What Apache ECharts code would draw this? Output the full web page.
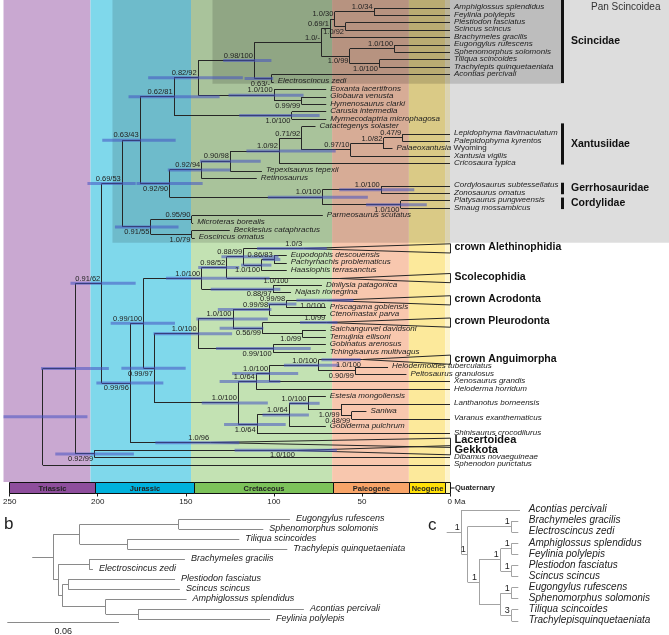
<!DOCTYPE html>
<html><head><meta charset="utf-8">
<script src="https://cdn.jsdelivr.net/npm/echarts@6/dist/echarts.min.js"></script>
<style>html,body{margin:0;padding:0;background:#fff}#c{width:669px;height:635px}</style>
</head><body><div id="c"></div>
<script>
// ---------------- Panel a data ----------------
const tipNames = [
 'Amphiglossus splendidus','Feylinia polylepis','Plestiodon fasciatus','Scincus scincus','Brachymeles gracilis',
 'Eugongylus rufescens','Sphenomorphus solomonis','Tiliqua scincoides','Trachylepis quinquetaeniata','Acontias percivali',
 'Electroscincus zedi','Eoxanta lacertifrons','Globaura venusta','Hymenosaurus clarki','Carusia intermedia',
 'Myrmecodaptria microphagosa','Catactegenys solaster','Lepidophyma flavimaculatum','Palepidophyma kyrentos','Palaeoxantusia Wyoming',
 'Xantusia vigilis','Cricosaura typica','Tepexisaurus tepexii','Retinosaurus','Cordylosaurus subtessellatus',
 'Zonosaurus ornatus','Platysaurus pungweensis','Smaug mossambicus','Parmeosaurus scutatus','Microteras borealis',
 'Becklesius cataphractus','Eoscincus ornatus','crown Alethinophidia','Eupodophis descouensis','Pachyrhachis problematicus',
 'Haasiophis terrasanctus','Scolecophidia','Dinilysia patagonica','Najash rionegrina','crown Acrodonta',
 'Priscagama gobiensis','Ctenomastax parva','crown Pleurodonta','Saichangurvel davidsoni','Temujinia ellisoni',
 'Gobinatus arenosus','Tchingisaurus multivagus','crown Anguimorpha','Helodermoides tuberculatus','Peltosaurus granulosus',
 'Xenosaurus grandis','Heloderma horridum','Estesia mongoliensis','Lanthanotus borneensis','Saniwa',
 'Varanus exanthematicus','Gobiderma pulchrum','Shinisaurus crocodilurus','Lacertoidea','Gekkota',
 'Dibamus novaeguineae','Sphenodon punctatus'];
// tip ages in Ma (fossil tips end at their age; collapsed clades: crown age)
const tipAges = [
 0,0,0,0,0, 0,0,0,0,0,
 98.7,69.3,69.3,69.3,69.3, 69.3,75.3,0,0,32.2,
 0,0,105.3,108.2,0, 0,0,0,71.2,143.8,
 123.3,142.9,82,91.4,91.4, 91.4,62,71.7,89,69,
 69.5,69.5,69,69.5,69.5, 69.5,69.5,49,34.7,24.4,
 0,0,69.5,0,46.8, 0,69.5,0,134,86,
 0,0];
const cladeRows = [32,36,39,42,47,58,59];
const bigCladeRows = [58,59];
// [tip row, support, side]
const cladeSupport = [[32,'1.0/3','a'],[39,'1.0/100','b'],[42,'1.0/99','a'],[47,'1.0/100','b'],[58,'1.0/96','a'],[59,'1.0/100','b']];
// [tip row, HPD old, HPD young]
const cladeHpd = [[32,108,69],[39,86,54],[42,84,63],[47,72,50],[58,165,118],[59,120.6,63.3]];
// [tip row, age, support, side]
const extraSupport = [[37,89.6,'1.0/100','a']];
// [id, child A, child B, age (Ma), support, side, HPD old, HPD young]
const nodes = [
 ['AF',0,1,42.5,'1.0/34','a'],
 ['PS',2,3,58.5,'1.0/92','b'],
 ['AFPS','AF','PS',64.5,'1.0/30','a'],
 ['SC1','AFPS',4,67,'0.69/1','a'],
 ['ES',5,6,31,'1.0/100','a'],
 ['TT',7,8,39.5,'1.0/100','b'],
 ['ESTT','ES','TT',56,'1.0/99','b'],
 ['SCI','SC1','ESTT',72,'1.0/-','a'],
 ['ACO',9,10,100,'0.63/-','b',115,99],
 ['S98','SCI','ACO',109.5,'0.98/100','a',127,100],
 ['GH',12,13,83,'0.99/99','b'],
 ['EOX',11,'GH',98.5,'1.0/100','a',124,82],
 ['CAR',14,15,88.5,'1.0/100','b',118,73],
 ['N82','S98','EOX',141,'0.82/92','a',169,116],
 ['N62','N82','CAR',154.5,'0.62/81','a',180,129],
 ['X47',17,18,26.5,'0.47/9','a'],
 ['X82','X47',19,37,'1.0/82','a'],
 ['X97','X82',20,55.5,'0.97/10','a'],
 ['X71',16,'X97',83,'0.71/92','a'],
 ['X92','X71',21,95.5,'1.0/92','a',114,64],
 ['X90','X92',22,123,'0.90/98','a',140,106],
 ['X94','X90',23,139,'0.92/94','a',158,123],
 ['GER',24,25,38.5,'1.0/100','a',62,20],
 ['COR',26,27,27.5,'1.0/100','b',47,13],
 ['CG','GER','COR',71.5,'1.0/100','a',102,46],
 ['N90','X94','CG',157,'0.92/90','b',175.5,138.5],
 ['N63','N62','N90',173.5,'0.63/43','a',194.7,153.6],
 ['M95',28,29,144.5,'0.95/90','a'],
 ['M79',30,31,144.5,'1.0/79','b'],
 ['M55','M95','M79',167.5,'0.91/55','b',187.6,152],
 ['N69','N63','M55',183.5,'0.69/53','a',203,176],
 ['S86',33,34,98.5,'0.86/83','a',105,95],
 ['S10B','S86',35,105.5,'1.0/100','b',117,100],
 ['S88',32,'S10B',115.5,'0.88/99','a',128,96],
 ['S52','S88',36,125,'0.98/52','a',141,118],
 ['S97',37,38,99,'0.88/97','b',134,95],
 ['SNK','S52','S97',139,'1.0/100','a',159,101],
 ['A98B',39,40,91.5,'0.99/98','a',102,86],
 ['A98','A98B',41,101,'0.99/98','a',130,100],
 ['ST',43,44,82.5,'1.0/99','b'],
 ['P56',42,'ST',105,'0.56/99','b',129,104.5],
 ['IG2','A98','P56',121.5,'1.0/100','a',142,102],
 ['GT',45,46,99,'0.99/100','b',131,78],
 ['IGU','IG2','GT',141,'1.0/100','a',166,122],
 ['HP',48,49,53,'0.90/99','b'],
 ['AN2',47,'HP',73.5,'1.0/100','a',93,62],
 ['AX',  'AN2',50,101,'1.0/100','a',122,85],
 ['A64A','AX',51,108.5,'1.0/64','a',129,95],
 ['SV',54,55,55,'0.48/99','b'],
 ['VAR',53,'SV',61,'1.0/99','b'],
 ['E10',52,'VAR',79.5,'1.0/100','a',90,73],
 ['A64C','E10',56,90,'1.0/64','a',105,79],
 ['A64B','A64C',57,108,'1.0/64','b',126.5,92],
 ['ANG','A64A','A64B',118.5,'1.0/100','a',139,102],
 ['T97','IGU','ANG',165.5,'0.99/97','b',184,148],
 ['T100','SNK','T97',171.5,'0.99/100','a',190,154],
 ['T96','T100',58,179,'0.99/96','b',198,160.5],
 ['Q62','N69','T96',195,'0.91/62','a',212.5,176],
 ['GD',59,60,199,'0.92/99','b',221,177],
 ['SQ','Q62','GD',209.5,'','',229,191],
 ['ROOT','SQ',61,228,'','',250,203]
];
const periods = ['Triassic','Jurassic','Cretaceous','Paleogene','Neogene','Quaternary'];
const periodStart = [250,201.3,145,66,23.03,2.58];
const periodEnd = [201.3,145,66,23.03,2.58,0];
const periodBarColors = ['#8e4e9c','#00b1dc','#7cc25a','#f8a468','#ffe007','#fff6b0'];
const periodBgColors = ['#c9a8d1','#7fd8eb','#c3e2b3','#f8c7ae','#fce99b','#fdf4cc'];
const axisTicks = [250,200,150,100,50,0];
const shadeNames = ['Pan Scincoidea','Scincidae'];
const shadeStartAge = [189,133];
const shadeLastRow = [31,10];
const bracketNames = ['Scincidae','Xantusiidae','Gerrhosauridae','Cordylidae'];
const bracketFirst = [0,16,24,26];
const bracketLast = [10,21,25,27];

// ---------------- Panel b data (phylogram) ----------------
const bTips = ['Eugongylus rufescens','Sphenomorphus solomonis','Tiliqua scincoides','Trachylepis quinquetaeniata','Brachymeles gracilis','Electroscincus zedi','Plestiodon fasciatus','Scincus scincus','Amphiglossus splendidus','Acontias percivali','Feylinia polylepis'];
const bTipLen = [0.0596,0.0453,0.060,0.0858,0.0514,0.002,0.0574,0.060,0.0433,0.089,0.0708];
// [id, child A, child B, branch length]
const bNodes = [
 ['ES',0,1,0.0532],['TT',2,3,0.0256],['TOP','ES','TT',0.0143],
 ['BE',4,5,0.0166],['PS',6,7,0.003],['AF',9,10,0.0173],['AFA',8,'AF',0.0233],
 ['L2','PS','AFA',0.0023],['LOW','BE','L2',0.0027],['ROOT','TOP','LOW',0.0113]
];
const bScale = 0.06;

// ---------------- Panel c data (cladogram) ----------------
const cTips = ['Acontias percivali','Brachymeles gracilis','Electroscincus zedi','Amphiglossus splendidus','Feylinia polylepis','Plestiodon fasciatus','Scincus scincus','Eugongylus rufescens','Sphenomorphus solomonis','Tiliqua scincoides','Trachylepisquinquetaeniata'];
const cTipDepth = [73.3,71.6,71.6,71.6,71.6,71.6,71.6,71.6,71.6,71.6,71.6];
// [id, child A, child B, depth, support]
const cNodes = [
 ['BE',1,2,65,'1'],['AF',3,4,65,'1'],['PS',5,6,65,'1'],['ES',7,8,65,'1'],['TT',9,10,65,'3'],
 ['N4','AF','PS',54,'1'],['N5','ES','TT',54,''],['N3','N4','N5',32.3,'1'],['N2','BE','N3',21,'1'],['ROOT',0,'N2',15,'1']
];

// ---------------- layout helpers ----------------
const FONT = '"Liberation Sans", Arial, sans-serif';
const NARROW = '"Liberation Sans Narrow", "Liberation Sans", Arial, sans-serif';
const LINE = '#262626';
const rowPos = i => i + (i >= 32 ? 0.4 : 0) + (i >= 58 ? 0.2 : 0);
const crisp = v => Math.round(v - 0.5) + 0.5;

// place panel a tree
const nodeMap = {}; nodes.forEach(n => nodeMap[n[0]] = n);
const placed = {};
function place(c) {
  if (typeof c === 'number') return {age: tipAges[c], row: rowPos(c)};
  if (placed[c]) return placed[c];
  const n = nodeMap[c]; const a = place(n[1]), b = place(n[2]);
  return placed[c] = {age: n[3], row: (a.row + b.row) / 2, a, b};
}
const segs = [];
nodes.forEach(n => {
  const p = place(n[0]);
  segs.push([p.age, p.a.row, p.age, p.b.row]);
  segs.push([p.age, p.a.row, p.a.age, p.a.row]);
  segs.push([p.age, p.b.row, p.b.age, p.b.row]);
});
const supportItems = [];
nodes.forEach(n => { if (n[4]) { const p = place(n[0]); supportItems.push([p.age, p.row, n[4], n[5]]); } });
cladeSupport.forEach(c => supportItems.push([tipAges[c[0]], rowPos(c[0]), c[1], c[2]]));
extraSupport.forEach(c => supportItems.push([c[1], rowPos(c[0]), c[2], c[3]]));
const hpdItems = [];
nodes.forEach(n => { if (n[6] != null) { const p = place(n[0]); hpdItems.push([n[6], n[7], p.row]); } });
cladeHpd.forEach(c => hpdItems.push([c[1], c[2], rowPos(c[0])]));

// place panel b tree
const bMap = {}; bNodes.forEach(n => bMap[n[0]] = n);
const bSegs = []; const bTipX = [];
const bStemStart = 0.0134;
function placeB(c, x) {
  if (typeof c === 'number') { const tx = x + bTipLen[c]; bTipX[c] = tx; return {row: c, x: tx}; }
  const n = bMap[c]; const nx = x + n[3];
  const a = placeB(n[1], nx), b = placeB(n[2], nx);
  bSegs.push([nx, a.row, nx, b.row], [nx, a.row, a.x, a.row], [nx, b.row, b.x, b.row]);
  return {row: (a.row + b.row) / 2, x: nx};
}
const bRoot = placeB('ROOT', bStemStart);
bSegs.push([bStemStart, bRoot.row, bRoot.x, bRoot.row]);

// place panel c tree
const cMap = {}; cNodes.forEach(n => cMap[n[0]] = n);
const cSegs = []; const cSupp = [];
function placeC(c) {
  if (typeof c === 'number') return {row: c, x: cTipDepth[c]};
  const n = cMap[c]; const a = placeC(n[1]), b = placeC(n[2]);
  cSegs.push([n[3], a.row, n[3], b.row], [n[3], a.row, a.x, a.row], [n[3], b.row, b.x, b.row]);
  const r = (a.row + b.row) / 2;
  if (n[4]) cSupp.push([n[3], r, n[4]]);
  return {row: r, x: n[3]};
}
const cRoot = placeC('ROOT');
cSegs.push([0, cRoot.row, cRoot.x, cRoot.row]);

// ---------------- render functions ----------------
function segRender(color, width) {
  return function (params, api) {
    const p1 = api.coord([api.value(0), api.value(1)]);
    const p2 = api.coord([api.value(2), api.value(3)]);
    let x1 = p1[0], y1 = p1[1], x2 = p2[0], y2 = p2[1];
    if (Math.abs(y1 - y2) < 0.01) { y1 = y2 = crisp(y1); }
    if (Math.abs(x1 - x2) < 0.01) { x1 = x2 = crisp(x1); }
    return {type: 'line', shape: {x1, y1, x2, y2}, style: {stroke: color, lineWidth: width}};
  };
}
function hidden(gi, min, max, inverse) {
  return {gridIndex: gi, type: 'value', min, max, inverse: !!inverse, show: false};
}

const chart = echarts.init(document.getElementById('c'), null, {renderer: 'canvas', width: 669, height: 635});
const option = {
  animation: false,
  backgroundColor: '#fff',
  grid: [
    {left: 3.5, top: 0, width: 446.5, height: 482},
    {left: 3.5, top: 8, width: 446.5, height: 7.42 * 62},
    {left: 3.5, top: 482.5, width: 446.5, height: 11},
    {left: 7.3, top: 519.3, width: 316.5, height: 100},
    {left: 446.7, top: 510, width: 73.3, height: 111}
  ],
  xAxis: [
    hidden(0, 0, 250, true),
    hidden(1, 0, 250, true),
    {gridIndex: 2, type: 'value', min: 0, max: 250, interval: 50, inverse: true,
     axisLine: {show: false}, splitLine: {show: false},
     axisTick: {show: true, length: 3, lineStyle: {color: '#222', width: 1}},
     axisLabel: {fontSize: 8, fontFamily: FONT, color: '#222', margin: 4,
       formatter: v => axisTicks.indexOf(v) < 0 ? '' : (v === 0 ? '{z|0 Ma}' : String(v)),
       rich: {z: {fontSize: 8, fontFamily: FONT, color: '#222', padding: [0, 0, 0, 13]}}}},
    hidden(3, 0, 0.17),
    hidden(4, 0, 73.3)
  ],
  yAxis: [
    hidden(0, 0, 1), hidden(1, 0, 62, true), hidden(2, 0, 1), hidden(3, 0, 10, true), hidden(4, 0, 10, true)
  ],
  series: [
    { // period backgrounds
      type: 'custom', xAxisIndex: 0, yAxisIndex: 0, z: 1, silent: true, clip: false,
      data: periods.map((p, i) => [periodStart[i], periodEnd[i], i]),
      renderItem(params, api) {
        const cs = params.coordSys;
        const xa = api.coord([api.value(0), 0])[0], xb = api.coord([api.value(1), 0])[0];
        return {type: 'rect', shape: {x: xa, y: cs.y, width: xb - xa, height: cs.height}, style: {fill: periodBgColors[api.value(2)]}};
      }
    },
    { // shaded clade boxes
      type: 'custom', xAxisIndex: 1, yAxisIndex: 1, z: 2, silent: true, clip: false,
      data: shadeNames.map((s, i) => [shadeStartAge[i], rowPos(shadeLastRow[i]) + (i === 0 ? 0.65 : 0.2), i]),
      renderItem(params, api) {
        const k = api.value(2);
        const p = api.coord([api.value(0), api.value(1)]);
        const zx = api.coord([0, 0])[0];
        const right = k === 0 ? api.getWidth() : zx + 111;
        const children = [{type: 'rect', shape: {x: p[0], y: 0, width: right - p[0], height: p[1]}, style: {fill: k === 0 ? 'rgba(0,0,0,0.135)' : 'rgba(0,0,0,0.145)'}}];
        if (k === 0) children.push({type: 'text', x: zx + 141, y: 7, style: {text: shadeNames[0], font: '10px ' + FONT, fill: '#333', align: 'left', verticalAlign: 'middle'}});
        return {type: 'group', children};
      }
    },
    { // tree branches
      type: 'custom', xAxisIndex: 1, yAxisIndex: 1, z: 3, silent: true, clip: false,
      data: segs, renderItem: segRender(LINE, 1)
    },
    { // collapsed clades
      type: 'custom', xAxisIndex: 1, yAxisIndex: 1, z: 3, silent: true, clip: false,
      data: cladeRows.map(r => [tipAges[r], rowPos(r)]),
      renderItem(params, api) {
        const p = api.coord([api.value(0), api.value(1)]);
        const bx = crisp(api.coord([0, api.value(1)])[0]);
        const h = api.coord([0, api.value(1) + 0.62])[1] - p[1];
        return {type: 'polygon', shape: {points: [[p[0], crisp(p[1])], [bx, p[1] - h], [bx, p[1] + h]]}, style: {fill: 'none', stroke: LINE, lineWidth: 1}};
      }
    },
    { // HPD bars
      type: 'custom', xAxisIndex: 1, yAxisIndex: 1, z: 4, silent: true, clip: false,
      data: hpdItems,
      renderItem(params, api) {
        const a = api.coord([api.value(0), api.value(2)]), b = api.coord([api.value(1), api.value(2)]);
        return {type: 'rect', shape: {x: a[0], y: a[1] - 1.5, width: b[0] - a[0], height: 3}, style: {fill: 'rgba(70,82,195,0.55)'}};
      }
    },
    { // support values
      type: 'custom', xAxisIndex: 1, yAxisIndex: 1, z: 5, silent: true, clip: false,
      data: supportItems.map((s, i) => [s[0], s[1], i]),
      renderItem(params, api) {
        const s = supportItems[api.value(2)];
        const p = api.coord([s[0], s[1]]);
        const above = s[3] === 'a';
        return {type: 'text', x: p[0] - 1.5, y: above ? p[1] - 0.8 : p[1] + 1.2,
          style: {text: s[2], font: '7.5px ' + NARROW, fill: '#222', align: 'right', verticalAlign: above ? 'bottom' : 'top'}};
      }
    },
    { // tip labels
      type: 'custom', xAxisIndex: 1, yAxisIndex: 1, z: 5, silent: true, clip: false,
      data: tipNames.map((n, i) => [tipAges[i], rowPos(i), i]),
      renderItem(params, api) {
        const i = api.value(2);
        const isClade = cladeRows.indexOf(i) >= 0;
        const p = api.coord([isClade ? 0 : tipAges[i], rowPos(i)]);
        const name = tipNames[i];
        let style, dy = -1;
        if (isClade) {
          const big = bigCladeRows.indexOf(i);
          if (big >= 0) dy = big === 0 ? -2.4 : 0.2;
          style = {text: name, font: 'bold ' + (big >= 0 ? 11 : 10.5) + 'px ' + FONT, fill: '#111'};
        } else if (name.indexOf('Wyoming') >= 0) {
          style = {text: '{i|Palaeoxantusia} Wyoming', font: '8px ' + FONT, fill: '#222',
            rich: {i: {font: 'italic 8px ' + FONT, fill: '#222'}}};
        } else {
          style = {text: name, font: 'italic 8px ' + FONT, fill: '#222'};
        }
        style.align = 'left'; style.verticalAlign = 'middle';
        return {type: 'text', x: p[0] + (isClade ? 4.5 : 4), y: p[1] + dy, style};
      }
    },
    { // clade brackets
      type: 'custom', xAxisIndex: 1, yAxisIndex: 1, z: 5, silent: true, clip: false,
      data: bracketNames.map((b, i) => [bracketFirst[i], bracketLast[i], i]),
      renderItem(params, api) {
        const i = api.value(2);
        const zx = api.coord([0, 0])[0];
        const y1 = i === 0 ? 0 : api.coord([0, rowPos(api.value(0)) - 0.45])[1];
        const y2 = api.coord([0, rowPos(api.value(1)) + (i === 0 ? 0.12 : 0.1)])[1];
        return {type: 'group', children: [
          {type: 'rect', shape: {x: zx + 111, y: y1, width: 3, height: y2 - y1}, style: {fill: '#111'}},
          {type: 'text', x: zx + 121, y: (y1 + y2) / 2, style: {text: bracketNames[i], font: 'bold 10.5px ' + FONT, fill: '#111', align: 'left', verticalAlign: 'middle'}}
        ]};
      }
    },
    { // geological period bar
      type: 'custom', xAxisIndex: 2, yAxisIndex: 2, z: 5, silent: true, clip: false,
      data: periods.map((p, i) => [periodStart[i], periodEnd[i], i]),
      renderItem(params, api) {
        const cs = params.coordSys; const i = api.value(2);
        const xa = crisp(api.coord([api.value(0), 0])[0]), xb = crisp(api.coord([api.value(1), 0])[0]);
        const y = crisp(cs.y), h = Math.round(cs.height);
        const ch = [{type: 'rect', shape: {x: xa, y, width: xb - xa, height: h}, style: {fill: periodBarColors[i], stroke: '#111', lineWidth: 1}}];
        if (i < 5) {
          ch.push({type: 'text', x: (xa + xb) / 2, y: y + h / 2 + 0.5, style: {text: periods[i], font: 'bold 7.5px ' + FONT, fill: '#222', align: 'center', verticalAlign: 'middle'}});
        } else {
          ch.push({type: 'line', shape: {x1: xb, y1: y + h / 2, x2: xb + 4, y2: y + h / 2}, style: {stroke: '#111', lineWidth: 1}});
          ch.push({type: 'text', x: xb + 4.5, y: y + h / 2, style: {text: periods[i], font: 'bold 7.5px ' + FONT, fill: '#222', align: 'left', verticalAlign: 'middle'}});
        }
        return {type: 'group', children: ch};
      }
    },
    { // panel b branches
      type: 'custom', xAxisIndex: 3, yAxisIndex: 3, z: 5, silent: true, clip: false,
      data: bSegs.concat([[0, 10.34, bScale, 10.34]]), renderItem: segRender('#8a8a8a', 1)
    },
    { // panel b labels
      type: 'custom', xAxisIndex: 3, yAxisIndex: 3, z: 5, silent: true, clip: false,
      data: bTips.map((t, i) => [bTipX[i], i, i]).concat([[bScale / 2, 11.2, -1]]),
      renderItem(params, api) {
        const i = api.value(2);
        const p = api.coord([api.value(0), api.value(1)]);
        if (i < 0) return {type: 'text', x: p[0], y: p[1], style: {text: String(bScale), font: '9px ' + FONT, fill: '#222', align: 'center', verticalAlign: 'middle'}};
        return {type: 'text', x: p[0] + 6, y: p[1] - 1, style: {text: bTips[i], font: 'italic 9px ' + FONT, fill: '#222', align: 'left', verticalAlign: 'middle'}};
      }
    },
    { // panel c branches
      type: 'custom', xAxisIndex: 4, yAxisIndex: 4, z: 5, silent: true, clip: false,
      data: cSegs, renderItem: segRender('#a3a3a3', 1)
    },
    { // panel c labels
      type: 'custom', xAxisIndex: 4, yAxisIndex: 4, z: 5, silent: true, clip: false,
      data: cTips.map((t, i) => [71.6, i, i]).concat(cSupp.map((s, k) => [s[0], s[1], 100 + k])),
      renderItem(params, api) {
        const i = api.value(2);
        const p = api.coord([api.value(0), api.value(1)]);
        if (i >= 100) return {type: 'text', x: p[0] - 2, y: p[1] - 0.5, style: {text: cSupp[i - 100][2], font: '9px ' + FONT, fill: '#222', align: 'right', verticalAlign: 'bottom'}};
        return {type: 'text', x: p[0] + 10.5, y: p[1] - 0.5, style: {text: cTips[i], font: 'italic 10px ' + FONT, fill: '#222', align: 'left', verticalAlign: 'middle'}};
      }
    }
  ],
  graphic: [
    {type: 'text', left: 16, top: 14, style: {text: 'a', font: '17px ' + FONT, fill: '#222'}},
    {type: 'text', left: 4, top: 516, style: {text: 'b', font: '17px ' + FONT, fill: '#222'}},
    {type: 'text', left: 428, top: 517, style: {text: 'c', font: '17px ' + FONT, fill: '#222'}}
  ]
};
chart.setOption(option);
</script></body></html>
